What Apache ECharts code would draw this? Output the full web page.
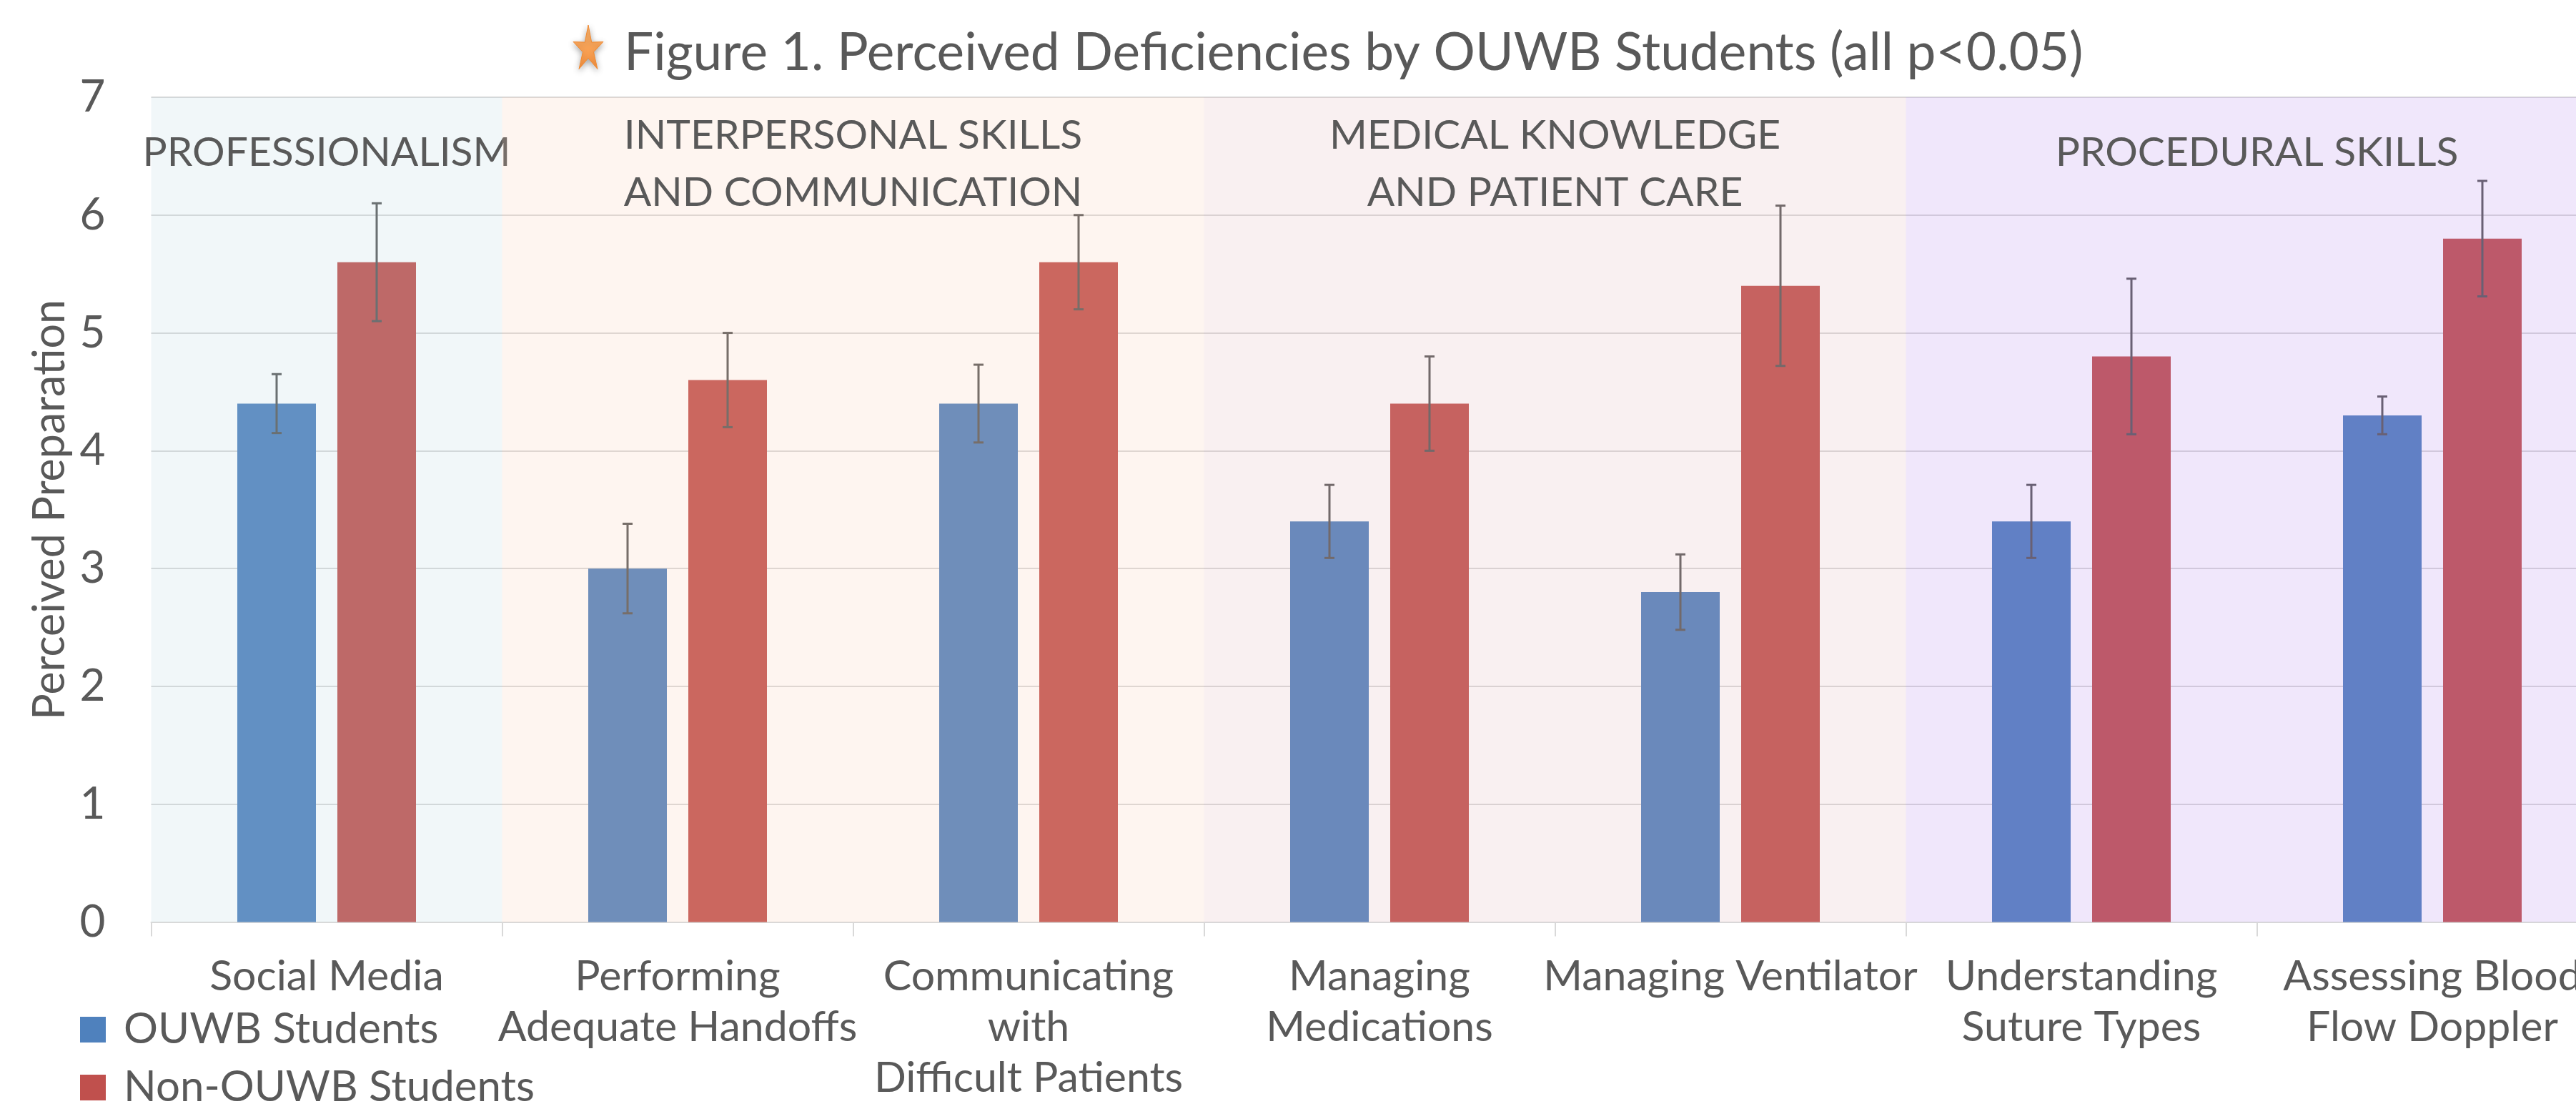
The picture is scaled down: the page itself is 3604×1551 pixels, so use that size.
<!DOCTYPE html>
<html>
<head>
<meta charset="utf-8">
<title>Figure 1. Perceived Deficiencies by OUWB Students</title>
<script src="https://cdn.jsdelivr.net/npm/echarts@6/dist/echarts.min.js"></script>
<style>
  html, body { margin: 0; padding: 0; background: #ffffff; }
  #chart { width: 3604px; height: 1551px; }
</style>
</head>
<body>
<div id="chart"></div>
<script>
// Values (bar heights and +/- error half-widths).
const categories = [
  'Social Media',
  'Performing\nAdequate Handoffs',
  'Communicating\nwith\nDifficult Patients',
  'Managing\nMedications',
  'Managing Ventilator',
  'Understanding\nSuture Types',
  'Assessing Blood\nFlow Doppler'
];
const ouwbValues = [4.4, 3.0, 4.4, 3.4, 2.8, 3.4, 4.3];
const ouwbErrors = [0.25, 0.38, 0.33, 0.31, 0.32, 0.31, 0.16];
const nonOuwbValues = [5.6, 4.6, 5.6, 4.4, 5.4, 4.8, 5.8];
const nonOuwbErrors = [0.5, 0.4, 0.4, 0.4, 0.68, 0.66, 0.49];
const seriesNames = ['OUWB Students', 'Non-OUWB Students'];

// Competency groups: first and last category index covered by each band.
const regionNames = [
  'PROFESSIONALISM',
  'INTERPERSONAL SKILLS\nAND COMMUNICATION',
  'MEDICAL KNOWLEDGE\nAND PATIENT CARE',
  'PROCEDURAL SKILLS'
];
const regionSpans = [[0, 0], [1, 2], [3, 4], [5, 6]];

const Y_MIN = 0;
const Y_MAX = 7;
const Y_STEP = 1;

// Styling
const FONT = 'Lato';
const TEXT = '#595959';
const GRID_LINE = '#D9D9D9';
const BLUE = '#4F81BD';
const RED = '#C0504D';
// Translucent bands are laid over the bars, like the shapes in the original.
const regionTints = [
  'rgba(181,210,221,0.19)',
  'rgba(250,202,176,0.19)',
  'rgba(223,176,181,0.19)',
  'rgba(173,130,232,0.19)'
];
const regionLabelY = [214, 230, 230, 214];
const BAR_W = 110;
const BAR_GAP = 30;
const CAP = 7;

const chart = echarts.init(document.getElementById('chart'), null, { renderer: 'canvas' });

function errorBars(side) {
  const dx = side * (BAR_W + BAR_GAP) / 2;
  return function (params, api) {
    const i = api.value(0);
    const v = api.value(1);
    const e = api.value(2);
    const hi = api.coord([i, v + e]);
    const lo = api.coord([i, v - e]);
    const x = hi[0] + dx;
    const style = { stroke: '#595959', lineWidth: 3 };
    return {
      type: 'group',
      children: [
        { type: 'line', shape: { x1: x, y1: hi[1], x2: x, y2: lo[1] }, style: style },
        { type: 'line', shape: { x1: x - CAP, y1: hi[1], x2: x + CAP, y2: hi[1] }, style: style },
        { type: 'line', shape: { x1: x - CAP, y1: lo[1], x2: x + CAP, y2: lo[1] }, style: style }
      ]
    };
  };
}

function regionBand(params, api) {
  const k = params.dataIndex;
  const bw = api.size([1, 0])[0];
  const topLeft = api.coord([api.value(0), Y_MAX]);
  const bottomRight = api.coord([api.value(1), Y_MIN]);
  const x0 = topLeft[0] - bw / 2;
  const x1 = bottomRight[0] + bw / 2;
  return {
    type: 'group',
    children: [
      {
        type: 'rect',
        shape: { x: x0, y: topLeft[1], width: x1 - x0, height: bottomRight[1] - topLeft[1] },
        style: { fill: regionTints[k] }
      },
      {
        type: 'text',
        style: {
          text: regionNames[k],
          x: (x0 + x1) / 2,
          y: regionLabelY[k],
          align: 'center',
          verticalAlign: 'middle',
          fontFamily: FONT,
          fontSize: 57,
          lineHeight: 80,
          fill: TEXT
        }
      }
    ]
  };
}

// Slim five-point star in front of the title.
function starPoints(cx, cy, rx, ry, inner) {
  const pts = [];
  for (let j = 0; j < 10; j++) {
    const a = -Math.PI / 2 + j * Math.PI / 5;
    const f = j % 2 === 0 ? 1 : inner;
    pts.push([cx + Math.cos(a) * rx * f, cy + Math.sin(a) * ry * f]);
  }
  return pts;
}

const option = {
  backgroundColor: '#ffffff',
  animation: false,
  textStyle: { fontFamily: FONT, color: TEXT },
  graphic: [
    {
      type: 'polygon',
      shape: { points: starPoints(823, 69, 22, 34, 0.36) },
      style: {
        fill: new echarts.graphic.LinearGradient(0, 0, 0, 1, [
          { offset: 0, color: '#FBB46E' },
          { offset: 1, color: '#F7923F' }
        ]),
        stroke: '#F28A30',
        lineWidth: 1,
        shadowBlur: 8,
        shadowOffsetY: 3,
        shadowColor: 'rgba(0,0,0,0.35)'
      }
    },
    {
      type: 'text',
      style: {
        text: 'Figure 1. Perceived Deficiencies by OUWB Students (all p<0.05)',
        x: 873,
        y: 74,
        textAlign: 'left',
        textVerticalAlign: 'middle',
        font: '73px Lato',
        fill: TEXT
      }
    }
  ],
  legend: {
    orient: 'vertical',
    left: 112,
    top: 1410,
    padding: 0,
    data: seriesNames,
    icon: 'rect',
    itemWidth: 36,
    itemHeight: 36,
    itemGap: 21,
    textStyle: { fontFamily: FONT, fontSize: 60, color: TEXT, lineHeight: 60, padding: [0, 0, 0, 20] }
  },
  grid: {
    left: 211.5,
    right: -44.5,
    top: 136,
    bottom: 261.5,
    containLabel: false,
    outerBoundsMode: 'none'
  },
  xAxis: {
    type: 'category',
    data: categories,
    axisLine: { lineStyle: { color: GRID_LINE, width: 2 } },
    axisTick: { show: true, interval: 0, length: 20, lineStyle: { color: GRID_LINE, width: 2 } },
    axisLabel: {
      interval: 0,
      margin: 41,
      fontFamily: FONT,
      fontSize: 59,
      lineHeight: 71,
      color: TEXT
    }
  },
  yAxis: {
    type: 'value',
    min: Y_MIN,
    max: Y_MAX,
    interval: Y_STEP,
    name: 'Perceived Preparation',
    nameLocation: 'middle',
    nameGap: 104,
    nameTextStyle: { fontFamily: FONT, fontSize: 61, color: TEXT },
    axisLine: { show: false },
    axisTick: { show: false },
    axisLabel: { margin: 64, fontFamily: FONT, fontSize: 62, color: TEXT },
    splitLine: { lineStyle: { color: GRID_LINE, width: 2 } }
  },
  series: [
    {
      name: seriesNames[0],
      type: 'bar',
      data: ouwbValues,
      barWidth: BAR_W,
      barGap: (BAR_GAP / BAR_W * 100) + '%',
      itemStyle: { color: BLUE },
      z: 2
    },
    {
      name: seriesNames[1],
      type: 'bar',
      data: nonOuwbValues,
      barWidth: BAR_W,
      barGap: (BAR_GAP / BAR_W * 100) + '%',
      itemStyle: { color: RED },
      z: 2
    },
    {
      type: 'custom',
      name: 'ouwb-err',
      silent: true,
      z: 3,
      renderItem: errorBars(-1),
      encode: { x: 0, y: 1 },
      data: ouwbValues.map((v, i) => [i, v, ouwbErrors[i]])
    },
    {
      type: 'custom',
      name: 'non-ouwb-err',
      silent: true,
      z: 3,
      renderItem: errorBars(1),
      encode: { x: 0, y: 1 },
      data: nonOuwbValues.map((v, i) => [i, v, nonOuwbErrors[i]])
    },
    {
      type: 'custom',
      name: 'regions',
      silent: true,
      z: 5,
      renderItem: regionBand,
      encode: { x: [0, 1] },
      data: regionSpans.map(s => [s[0], s[1]])
    }
  ]
};

chart.setOption(option);
</script>
</body>
</html>
